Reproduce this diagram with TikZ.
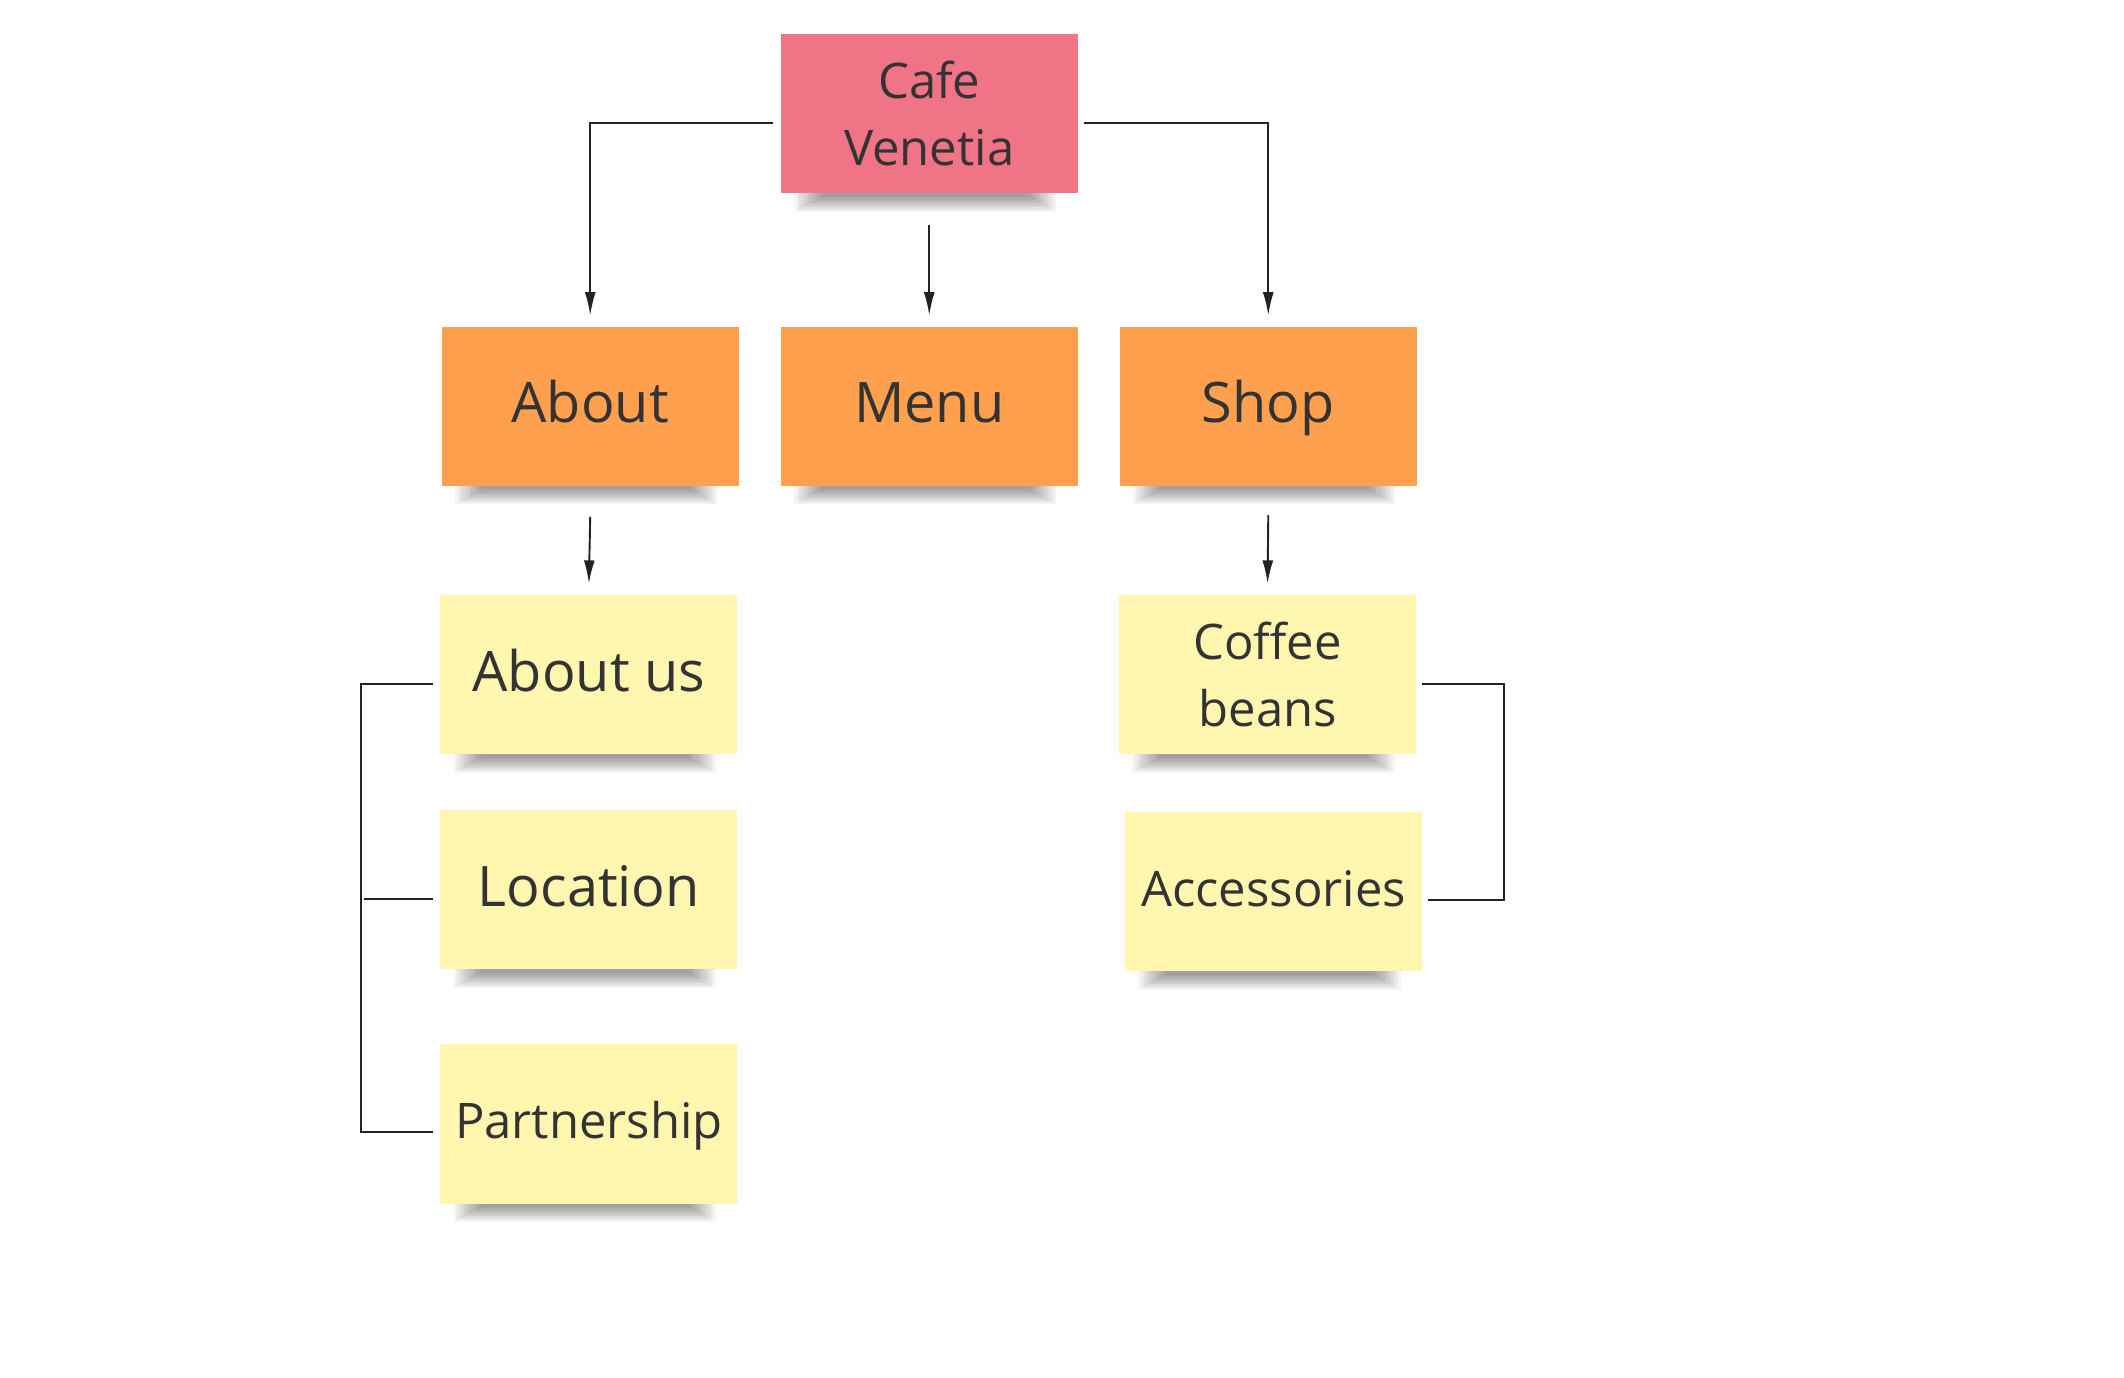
\documentclass[tikz,border=0pt]{standalone}
\usepackage{fontspec}
\setmainfont{Open Sans}
\usetikzlibrary{arrows.meta,backgrounds}
\definecolor{pinknote}{HTML}{F07386}
\definecolor{orangenote}{HTML}{FEA04E}
\definecolor{yellownote}{HTML}{FFF7B0}
\definecolor{inktext}{HTML}{333333}
\definecolor{inkline}{HTML}{222222}
\tikzset{
  note/.style={rectangle, inner sep=0pt, minimum width=109pt, minimum height=58.5pt,
    text=inktext, align=center},
  bigtxt/.style={font=\fontsize{20.5}{24.5}\selectfont, text height=14.64pt, text depth=2.5pt},
  smalltxt/.style={font=\fontsize{18}{24.5}\selectfont},
  smallone/.style={font=\fontsize{18}{24.5}\selectfont, text height=12.85pt, text depth=2.2pt},
  pinkbox/.style={note, fill=pinknote},
  orangebox/.style={note, fill=orangenote},
  yellowbox/.style={note, fill=yellownote},
  conn/.style={draw=inkline, line width=0.7pt},
  arr/.style={conn, -{Latex[length=8.5pt,width=4pt]}},
  shadowlayer/.style={fill=black, opacity=0.04}
}
\newcommand\stickyshadow[1]{%
  \foreach \k in {0,...,10} {
    \fill[shadowlayer] ([shift={(10+2*\k,-4)}]#1.south west) rectangle ([shift={(-16-2*\k,13-1.1*\k)}]#1.south east);
  }}
\begin{document}
\begin{tikzpicture}[x=0.5pt, y=-0.5pt]
\useasboundingbox (0,0) rectangle (1560,1012);
\node[pinkbox, smalltxt] (cafe) at (682.5,83.5) {Cafe\\Venetia};
\node[orangebox, bigtxt] (about) at (433.5,298.5) {About};
\node[orangebox, bigtxt] (menu) at (682.5,298.5) {Menu};
\node[orangebox, bigtxt] (shop) at (931.5,298.5) {Shop};
\node[yellowbox, bigtxt] (aboutus) at (432.5,495.5) {About us};
\node[yellowbox, bigtxt] (location) at (432.5,653.5) {Location};
\node[yellowbox, smallone] (partner) at (432.5,825.5) {Partnership};
\node[yellowbox, smalltxt] (coffee) at (931,495.5) {Coffee\\beans};
\node[yellowbox, smallone] (access) at (935.5,655) {Accessories};
\begin{scope}[on background layer]
  \fill[white] (0,0) rectangle (1560,1012);
  \stickyshadow{cafe}
  \stickyshadow{about}
  \stickyshadow{menu}
  \stickyshadow{shop}
  \stickyshadow{aboutus}
  \stickyshadow{location}
  \stickyshadow{partner}
  \stickyshadow{coffee}
  \stickyshadow{access}
\end{scope}
% top level arrows
\draw[arr] ([shift={(-5,7)}]cafe.west) -| ([shift={(0,-8)}]about.north);
\draw[arr] ([shift={(0,23)}]cafe.south) -- ([shift={(0,-8)}]menu.north);
\draw[arr] ([shift={(4,7)}]cafe.east) -| ([shift={(0,-8)}]shop.north);
% second level arrows
\draw[arr] ([shift={(0,22)}]about.south) -- ([shift={(0,-8)}]aboutus.north);
\draw[arr] ([shift={(0,21)}]shop.south) -- ([shift={(0,-8)}]coffee.north);
% left bracket
\draw[conn] ([shift={(-5,7)}]aboutus.west) -- ++(-53,0) |- ([shift={(-5,6)}]partner.west);
\draw[conn] ([shift={(-56,7)}]location.west) -- ([shift={(-5,7)}]location.west);
% right bracket
\draw[conn] ([shift={(4,7)}]coffee.east) -- ++(60,0) |- ([shift={(4,6)}]access.east);
\end{tikzpicture}
\end{document}
